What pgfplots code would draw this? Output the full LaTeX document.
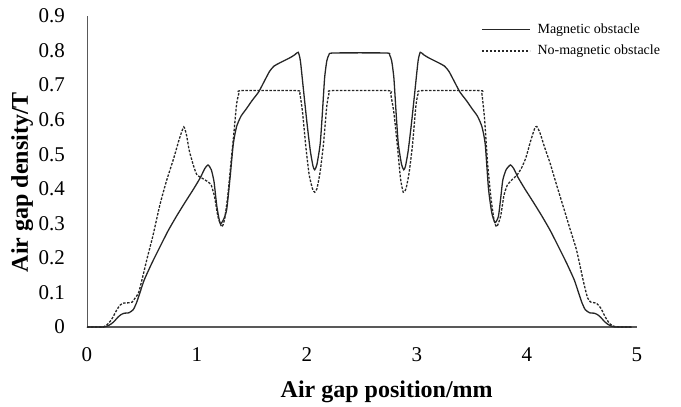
\documentclass[border=0pt]{standalone}
\usepackage{pgfplots}
\pgfplotsset{compat=1.18}
\usepackage{fontspec}
\setmainfont{Liberation Serif}
\definecolor{lc}{HTML}{262626}
\definecolor{ax}{HTML}{595959}
\begin{document}
\begin{tikzpicture}
\path[use as bounding box] (-87bp,-80bp) rectangle (594bp,327bp);
\begin{axis}[
  at={(0,0)}, anchor=south west,
  scale only axis, width=550bp, height=311bp,
  xmin=0, xmax=5, ymin=0, ymax=0.9,
  axis x line=bottom, axis y line=left,
  x axis line style={-, draw=ax, line width=1.3bp},
  y axis line style={-, draw=ax, line width=0.9bp},
  xtick={0,1,2,3,4,5}, ytick={0,0.1,0.2,0.3,0.4,0.5,0.6,0.7,0.8,0.9},
  major tick length=0pt,
  /pgf/number format/assume math mode=true,
  yticklabel style={/pgf/number format/fixed, /pgf/number format/precision=1, anchor=east, inner sep=0pt, xshift=-22bp, font=\fontsize{21bp}{25bp}\selectfont},
  xticklabel style={anchor=center, inner sep=0pt, yshift=-28bp, font=\fontsize{21bp}{25bp}\selectfont},
  xlabel={\textbf{Air gap position/mm}},
  ylabel={\textbf{Air gap density/T}},
  xlabel style={at={(axis description cs:0.545,-0.209)}, anchor=center, inner sep=0pt, font=\fontsize{24bp}{28bp}\selectfont},
  ylabel style={at={(axis description cs:-0.118,0.466)}, anchor=center, inner sep=0pt, rotate=0, font=\fontsize{24bp}{28bp}\selectfont},
  legend style={draw=none, fill=none, at={(axis description cs:0.7165,0.978)}, anchor=north west,
    inner sep=0pt, row sep=8bp, column sep=6bp, font=\fontsize{14bp}{16bp}\selectfont,
    nodes={inner sep=1bp, anchor=west}},
  legend cell align=left,
  legend image code/.code={\draw[#1] (0bp,0bp) -- (48bp,0bp);},
]
\addplot[lc, line width=1.3bp, smooth, tension=0.35] coordinates {
(0,0) (0.15,0) (0.20,0.005) (0.24,0.014) (0.28,0.028) (0.31,0.036) (0.34,0.040)
(0.38,0.041) (0.42,0.050) (0.45,0.070) (0.48,0.098) (0.52,0.136) (0.59,0.185)
(0.66,0.23) (0.74,0.28) (0.82,0.324) (0.90,0.365) (0.97,0.40) (1.03,0.432)
(1.07,0.458) (1.10,0.469) (1.13,0.455) (1.155,0.42) (1.18,0.35) (1.21,0.30)
(1.24,0.31) (1.27,0.34) (1.30,0.43) (1.33,0.53) (1.36,0.58) (1.40,0.61)
(1.45,0.632) (1.50,0.655) (1.56,0.68) (1.61,0.71) (1.66,0.74) (1.70,0.755)
(1.75,0.764) (1.80,0.772) (1.85,0.78) (1.89,0.788) (1.92,0.795) (1.94,0.77)
(1.97,0.68) (2.00,0.59) (2.03,0.51) (2.055,0.465) (2.07,0.455) (2.09,0.47)
(2.12,0.53) (2.14,0.62) (2.16,0.72) (2.18,0.77) (2.20,0.788) (2.24,0.793)
(2.72,0.793) (2.75,0.788) (2.77,0.77) (2.79,0.72) (2.81,0.62) (2.83,0.53)
(2.86,0.47) (2.88,0.455) (2.895,0.465) (2.92,0.51) (2.95,0.59) (2.98,0.68)
(3.01,0.77) (3.03,0.795) (3.06,0.788) (3.10,0.78) (3.15,0.772) (3.20,0.764)
(3.25,0.755) (3.29,0.74) (3.34,0.71) (3.39,0.68) (3.45,0.655) (3.50,0.632)
(3.55,0.61) (3.59,0.58) (3.62,0.53) (3.65,0.40) (3.68,0.33) (3.71,0.302)
(3.74,0.32) (3.76,0.37) (3.78,0.425) (3.81,0.455) (3.85,0.469) (3.88,0.458)
(3.92,0.432) (3.98,0.40) (4.05,0.365) (4.13,0.324) (4.21,0.28) (4.29,0.23)
(4.36,0.185) (4.43,0.136) (4.47,0.098) (4.50,0.070) (4.53,0.050) (4.57,0.041)
(4.61,0.040) (4.64,0.036) (4.67,0.028) (4.71,0.014) (4.75,0.005) (4.80,0) (4.95,0)
};
\addlegendentry{Magnetic obstacle}
\addplot[lc, line width=1.3bp, dash pattern=on 2.5bp off 1.5bp, smooth, tension=0.35] coordinates {
(0,0) (0.15,0) (0.18,0.006) (0.22,0.02) (0.27,0.049) (0.30,0.063) (0.33,0.069)
(0.38,0.070) (0.41,0.072) (0.44,0.085) (0.47,0.100) (0.51,0.15) (0.55,0.203)
(0.60,0.265) (0.66,0.35) (0.72,0.42) (0.79,0.49) (0.84,0.545) (0.88,0.579)
(0.905,0.555) (0.93,0.51) (0.97,0.465) (1.00,0.44) (1.05,0.43) (1.10,0.42)
(1.13,0.41) (1.16,0.376) (1.19,0.32) (1.225,0.29) (1.25,0.31) (1.28,0.38)
(1.31,0.48) (1.335,0.56) (1.36,0.645) (1.38,0.675) (1.40,0.684) (1.91,0.684)
(1.935,0.675) (1.96,0.62) (1.99,0.52) (2.02,0.44) (2.05,0.40) (2.07,0.39)
(2.09,0.40) (2.12,0.45) (2.15,0.53) (2.18,0.64) (2.20,0.675) (2.22,0.684)
(2.74,0.684) (2.76,0.675) (2.79,0.62) (2.82,0.53) (2.85,0.43) (2.875,0.39)
(2.90,0.40) (2.93,0.45) (2.96,0.53) (2.99,0.64) (3.01,0.675) (3.04,0.684)
(3.57,0.684) (3.59,0.675) (3.615,0.60) (3.64,0.48) (3.67,0.38) (3.70,0.31)
(3.725,0.29) (3.76,0.32) (3.79,0.38) (3.82,0.41) (3.86,0.425) (3.91,0.44)
(3.95,0.46) (3.99,0.49) (4.03,0.535) (4.07,0.575) (4.09,0.58) (4.12,0.56)
(4.16,0.52) (4.21,0.474) (4.27,0.41) (4.33,0.348) (4.39,0.285) (4.45,0.223)
(4.51,0.136) (4.55,0.085) (4.58,0.072) (4.63,0.069) (4.67,0.055) (4.71,0.030)
(4.75,0.01) (4.79,0.002) (4.85,0) (4.95,0)
};
\addlegendentry{No-magnetic obstacle}
\end{axis}
\end{tikzpicture}
\end{document}
